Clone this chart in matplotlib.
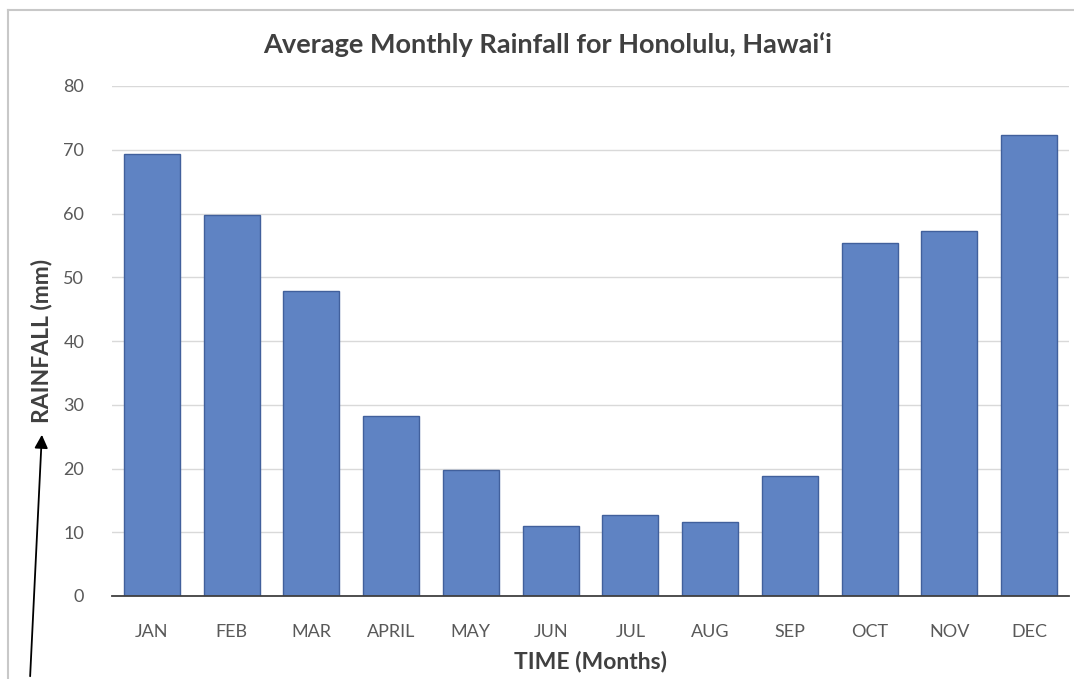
import matplotlib.pyplot as plt
from matplotlib.lines import Line2D
from matplotlib.patches import FancyArrowPatch

plt.rcParams["font.family"] = ["Lato", "DejaVu Sans"]

# Data
months = ["JAN", "FEB", "MAR", "APRIL", "MAY", "JUN", "JUL", "AUG", "SEP", "OCT", "NOV", "DEC"]
rainfall = [69.3, 59.8, 47.9, 28.2, 19.8, 11.0, 12.7, 11.6, 18.8, 55.4, 57.3, 72.3]
y_ticks = [0, 10, 20, 30, 40, 50, 60, 70, 80]

W, H = 1074, 679
fig = plt.figure(figsize=(W / 100, H / 100), dpi=100)
ax = fig.add_axes([112 / W, 1 - 596 / H, 957 / W, 510 / H])

x = range(len(months))
ax.bar(x, rainfall, width=0.7, color="#5f83c3", edgecolor="#41609c", linewidth=1.0, zorder=3)

ax.set_xlim(-0.5, len(months) - 0.5)
ax.set_ylim(0, 80)
ax.set_yticks(y_ticks)
ax.set_xticks(list(x))
ax.set_xticklabels(months)
ax.tick_params(axis="both", length=0, colors="#595959", labelsize=13)
ax.tick_params(axis="x", pad=20)
ax.tick_params(axis="y", pad=20)
ax.grid(axis="y", color="#d9d9d9", linewidth=1, zorder=0)
for side in ["top", "right", "left"]:
    ax.spines[side].set_visible(False)
ax.spines["bottom"].set_color("#404040")
ax.spines["bottom"].set_linewidth(1.3)
ax.spines["bottom"].set_zorder(4)

# title sits a little left of the plot centre, as in the original chart
fig.text(548 / W, 1 - 45 / H, "Average Monthly Rainfall for Honolulu, Hawai\u2018i", fontsize=19.5,
         fontweight="bold", color="#404040", ha="center", va="center")
ax.set_xlabel("TIME (Months)", fontsize=16.5, fontweight="bold", color="#404040", labelpad=8)
ax.set_ylabel("RAINFALL (mm)", fontsize=16.5, fontweight="bold", color="#404040", labelpad=8)

# chart border (top and left visible)
top = 1 - 10 / H
fig.add_artist(Line2D([8 / W, 1], [top, top], color="#c8c8c8", linewidth=1.5))
fig.add_artist(Line2D([8 / W, 8 / W], [0, top], color="#c8c8c8", linewidth=1.5))

# arrow pointing at the y-axis label
fig.patches.append(FancyArrowPatch(
    (30 / W, 0.0), (42 / W, 1 - 432 / H), transform=fig.transFigure,
    arrowstyle="-|>,head_length=8,head_width=4", color="black", linewidth=1.3, mutation_scale=1))

fig.savefig("out.png", dpi=100)
